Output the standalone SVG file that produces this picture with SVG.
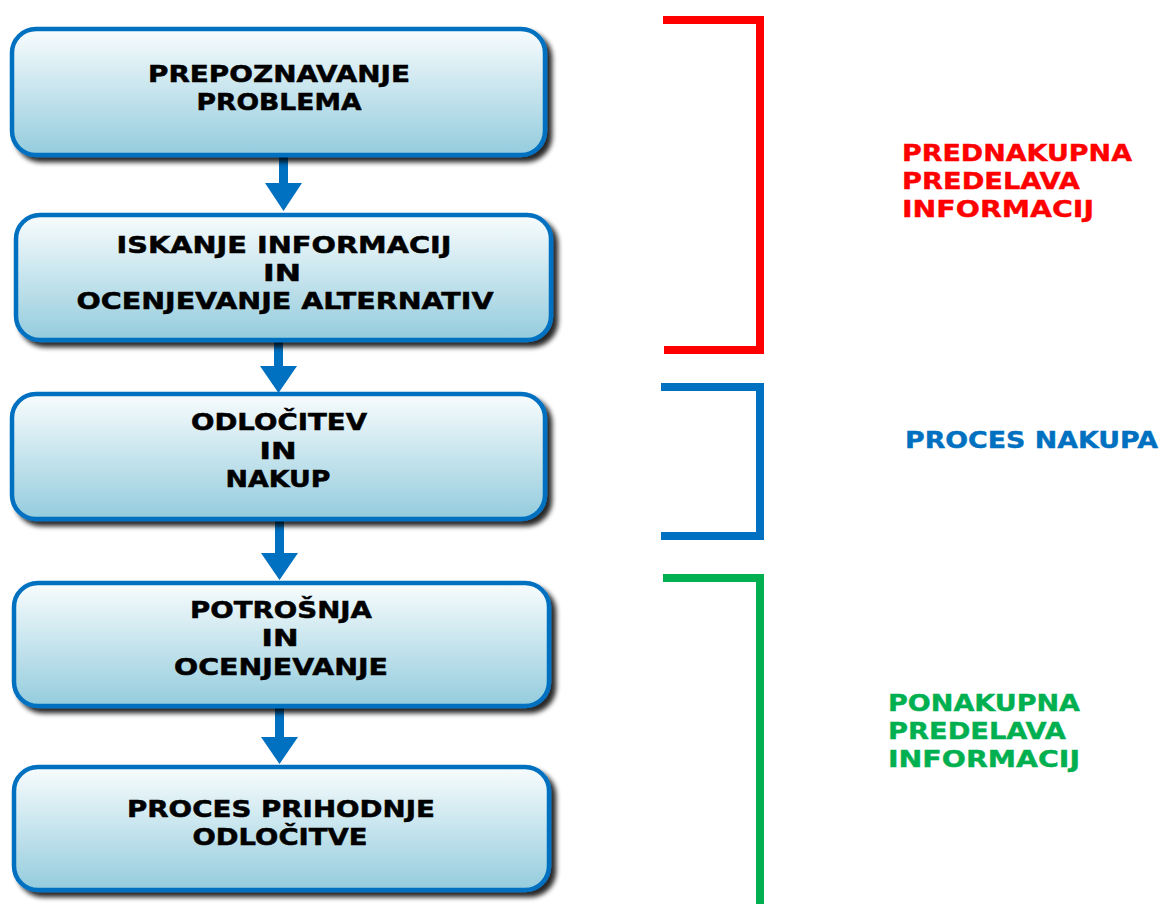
<svg xmlns="http://www.w3.org/2000/svg" width="1162" height="904" viewBox="0 0 1162 904">
<style>
.box{fill:url(#g);stroke:#0070C0;stroke-width:4.5;filter:url(#sh)}
.t{font-family:"DejaVu Sans",Verdana,sans-serif;font-weight:bold;font-size:23px;fill:#000;stroke:#000;stroke-width:0.5;text-anchor:middle}
.l{font-family:"DejaVu Sans",Verdana,sans-serif;font-weight:bold;font-size:22.5px;stroke-width:0.4}
.arr{fill:#0070C0}
.br{fill:none;stroke-width:8;stroke-linejoin:miter;stroke-linecap:butt}
</style>
<defs>
<linearGradient id="g" x1="0" y1="0" x2="0" y2="1">
<stop offset="0" stop-color="#F8FCFD"/>
<stop offset="1" stop-color="#94CCDD"/>
</linearGradient>
<filter id="sh" x="-5%" y="-10%" width="115%" height="130%">
<feGaussianBlur in="SourceAlpha" stdDeviation="2.5"/>
<feOffset dx="5" dy="5" result="b"/>
<feComponentTransfer><feFuncA type="linear" slope="0.85"/></feComponentTransfer>
<feMerge><feMergeNode/><feMergeNode in="SourceGraphic"/></feMerge>
</filter>
</defs>
<rect width="1162" height="904" fill="#fff"/>
<g id="connectors">
<path class="arr" d="M279,155 h9 v28 h14 l-18.5,28 l-18.5,-28 h14 z"/>
<path class="arr" d="M274,340 h9 v26 h14 l-18.5,27 l-18.5,-27 h14 z"/>
<path class="arr" d="M275,519 h9 v34 h14 l-18.5,27 l-18.5,-27 h14 z"/>
<path class="arr" d="M275,706 h9 v31 h14 l-18.5,27 l-18.5,-27 h14 z"/>
</g>
<g id="n1"><rect class="box" x="12" y="29" width="533" height="126" rx="24"/>
<text class="t" x="279" y="82" textLength="262" lengthAdjust="spacingAndGlyphs">PREPOZNAVANJE</text>
<text class="t" x="279" y="110" textLength="165" lengthAdjust="spacingAndGlyphs">PROBLEMA</text></g>
<g id="n2"><rect class="box" x="16" y="215" width="535" height="125" rx="24"/>
<text class="t" x="284" y="253" textLength="335" lengthAdjust="spacingAndGlyphs">ISKANJE INFORMACIJ</text>
<text class="t" x="282" y="281" textLength="38" lengthAdjust="spacingAndGlyphs">IN</text>
<text class="t" x="285" y="309" textLength="417" lengthAdjust="spacingAndGlyphs">OCENJEVANJE ALTERNATIV</text></g>
<g id="n3"><rect class="box" x="12" y="394" width="533" height="125" rx="24"/>
<text class="t" x="279" y="430" textLength="176" lengthAdjust="spacingAndGlyphs">ODLOČITEV</text>
<text class="t" x="278" y="459" textLength="37" lengthAdjust="spacingAndGlyphs">IN</text>
<text class="t" x="278" y="487" textLength="105" lengthAdjust="spacingAndGlyphs">NAKUP</text></g>
<g id="n4"><rect class="box" x="14" y="583" width="535" height="123" rx="24"/>
<text class="t" x="281" y="618" textLength="182" lengthAdjust="spacingAndGlyphs">POTROŠNJA</text>
<text class="t" x="280" y="646" textLength="37" lengthAdjust="spacingAndGlyphs">IN</text>
<text class="t" x="281" y="675" textLength="214" lengthAdjust="spacingAndGlyphs">OCENJEVANJE</text></g>
<g id="n5"><rect class="box" x="14" y="767" width="535" height="123" rx="24"/>
<text class="t" x="281" y="817" textLength="308" lengthAdjust="spacingAndGlyphs">PROCES PRIHODNJE</text>
<text class="t" x="280" y="845" textLength="175" lengthAdjust="spacingAndGlyphs">ODLOČITVE</text></g>
<g id="brackets">
<path class="br" stroke="#FF0000" d="M663,20 H760 V350 H664"/>
<path class="br" stroke="#0070C0" d="M661,387 H760 V536 H661"/>
<path class="br" stroke="#00B050" d="M663,578 H760 V904"/>
</g>
<g id="labels">
<text class="l" fill="#FF0000" stroke="#FF0000"><tspan x="902" y="161" textLength="230" lengthAdjust="spacingAndGlyphs">PREDNAKUPNA</tspan><tspan x="902" y="189" textLength="178" lengthAdjust="spacingAndGlyphs">PREDELAVA</tspan><tspan x="902" y="217" textLength="192" lengthAdjust="spacingAndGlyphs">INFORMACIJ</tspan></text>
<text class="l" fill="#0070C0" stroke="#0070C0" x="905" y="448" textLength="253" lengthAdjust="spacingAndGlyphs">PROCES NAKUPA</text>
<text class="l" fill="#00B050" stroke="#00B050"><tspan x="888" y="711" textLength="192" lengthAdjust="spacingAndGlyphs">PONAKUPNA</tspan><tspan x="888" y="739" textLength="178" lengthAdjust="spacingAndGlyphs">PREDELAVA</tspan><tspan x="888" y="767" textLength="192" lengthAdjust="spacingAndGlyphs">INFORMACIJ</tspan></text>
</g>
</svg>
